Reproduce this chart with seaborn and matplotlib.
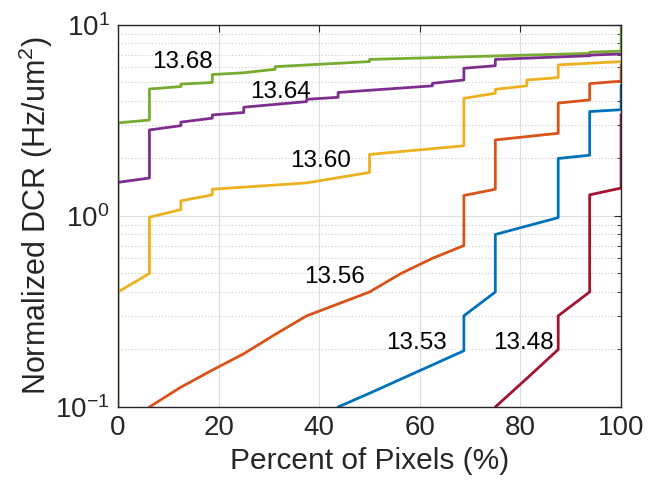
import matplotlib
matplotlib.use("Agg")
import matplotlib.pyplot as plt
import seaborn as sns
import pandas as pd
from matplotlib.ticker import FixedLocator, LogLocator, NullFormatter

# ---- data ----
series_names = ["13.68", "13.64", "13.60", "13.56", "13.53", "13.48"]

x_1368 = [0, 0, 6.25, 6.25, 12.5, 12.5, 18.75, 18.75, 25, 31.25, 31.25, 50, 50, 93.75, 93.75, 100, 100]
y_1368 = [0.05, 3.07, 3.18, 4.62, 4.76, 4.9, 5.0, 5.5, 5.62, 5.86, 6.05, 6.43, 6.6, 7.1, 7.2, 7.3, 12]

x_1364 = [0, 6.25, 6.25, 12.5, 12.5, 18.75, 18.75, 25, 25, 37.5, 37.5, 43.75, 43.75,
          62.5, 62.5, 68.75, 68.75, 75, 75, 93.75, 93.75, 100]
y_1364 = [1.5, 1.58, 2.82, 2.97, 3.10, 3.25, 3.38, 3.48, 3.71, 3.97, 4.08, 4.18, 4.43,
          4.8, 4.95, 5.15, 5.93, 6.12, 6.6, 6.9, 6.95, 7.05]

x_1360 = [0, 6.25, 6.25, 12.5, 12.5, 18.75, 18.75, 37.5, 50, 50, 68.75, 68.75, 75, 75,
          81.25, 81.25, 87.5, 87.5, 100]
y_1360 = [0.4, 0.5, 0.985, 1.08, 1.2, 1.29, 1.38, 1.49, 1.69, 2.1, 2.33, 4.13, 4.39, 4.6,
          4.8, 5.15, 5.3, 6.18, 6.43]

x_1356 = [6.25, 12.5, 18.75, 25, 31.25, 37.5, 50, 56.25, 62.5, 68.75, 68.75, 75, 75,
          87.5, 87.5, 93.75, 93.75, 100, 100]
y_1356 = [0.1, 0.127, 0.156, 0.19, 0.24, 0.3, 0.4, 0.5, 0.6, 0.7, 1.28, 1.38, 2.5,
          2.71, 3.9, 4.05, 4.93, 5.08, 6.2]

x_1353 = [43.75, 50, 56.25, 62.5, 68.75, 68.75, 75, 75, 87.5, 87.5, 93.75, 93.75, 100, 100]
y_1353 = [0.1, 0.118, 0.14, 0.166, 0.197, 0.3, 0.4, 0.8, 0.98, 2.0, 2.08, 3.52, 3.6, 4.85]

x_1348 = [75, 81.25, 87.5, 87.5, 93.75, 93.75, 100, 100]
y_1348 = [0.1, 0.141, 0.2, 0.3, 0.4, 1.29, 1.4, 3.4]

# label positions for the in-plot annotations
label_x = [12.8, 32.3, 40.2, 43.1, 59.4, 80.6]
label_y = [6.37, 4.48, 1.95, 0.48, 0.216, 0.216]

x_ticks = [0, 20, 40, 60, 80, 100]
y_ticks = [0.1, 1, 10]
y_tick_labels = [r"$10^{-1}$", r"$10^{0}$", r"$10^{1}$"]

colors = ["#77AC30", "#7E2F8E", "#EDB120", "#D95319", "#0072BD", "#A2142F"]

# ---- build long table ----
xs = [x_1368, x_1364, x_1360, x_1356, x_1353, x_1348]
ys = [y_1368, y_1364, y_1360, y_1356, y_1353, y_1348]
frames = []
for name, xv, yv in zip(series_names, xs, ys):
    frames.append(pd.DataFrame({"x": xv, "y": yv, "series": name}))
df = pd.concat(frames, ignore_index=True)

sns.set_style("white")
plt.rcParams["font.family"] = ["Liberation Sans", "DejaVu Sans"]
plt.rcParams["mathtext.fontset"] = "custom"
plt.rcParams["mathtext.rm"] = "Liberation Sans"
plt.rcParams["mathtext.it"] = "Liberation Sans"

fig = plt.figure(figsize=(6.49, 4.99), dpi=100)
ax = fig.add_axes([0.1818, 0.1844, 0.957 - 0.1818, 0.95 - 0.1844])

sns.lineplot(data=df, x="x", y="y", hue="series", hue_order=series_names,
             palette=colors, estimator=None, sort=False, linewidth=2.0,
             legend=False, ax=ax)

ax.set_yscale("log")
ax.set_xlim(0, 100)
ax.set_ylim(0.1, 10)

ax.xaxis.set_major_locator(FixedLocator(x_ticks))
ax.set_xticklabels([str(t) for t in x_ticks])
ax.yaxis.set_major_locator(FixedLocator(y_ticks))
ax.set_yticklabels(y_tick_labels)
ax.yaxis.set_minor_locator(LogLocator(base=10, subs=range(2, 10)))
ax.yaxis.set_minor_formatter(NullFormatter())

ax.grid(which="major", color="#dedede", linewidth=0.8)
ax.grid(which="minor", axis="y", color="#c8c8c8", linestyle=(0, (1, 2)), linewidth=0.8)
ax.set_axisbelow(True)

ax.tick_params(which="both", direction="in", top=True, right=True,
               colors="#262626", labelcolor="#262626")
ax.tick_params(which="major", length=5, width=0.8, labelsize=20, pad=6)
ax.tick_params(which="minor", length=3, width=0.6)
for s in ax.spines.values():
    s.set_color("#262626")
    s.set_linewidth(1.0)

ax.set_xlabel("Percent of Pixels (%)", fontsize=21.5, color="#262626", labelpad=4)
ax.set_ylabel(r"Normalized DCR (Hz/um$^2$)", fontsize=22, color="#262626", labelpad=0)

for name, lx, ly in zip(series_names, label_x, label_y):
    ax.text(lx, ly, name, ha="center", va="center", fontsize=17.5, color="black")

fig.savefig("out.png", dpi=100)
